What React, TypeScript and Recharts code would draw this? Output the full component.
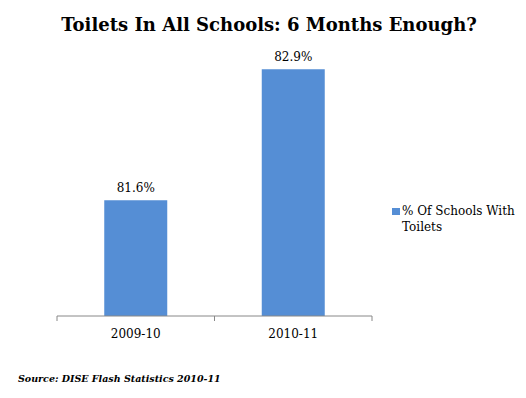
import { BarChart, Bar, XAxis, YAxis, LabelList, Legend } from 'recharts';

const categories = ['2009-10', '2010-11'];
const toiletShare = [81.6, 82.9];
const seriesName = '% Of Schools With Toilets';

const data = categories.map((year, i) => ({ year, value: toiletShare[i] }));

const FONT = '"DejaVu Serif", Georgia, serif';
const BAR = '#558ed5';

function YearTick(props: any) {
  const { x, y, payload, index } = props;
  const half = payload && payload.offset ? payload.offset : 78.75;
  return (
    <g>
      <line x1={x - half} y1={y - 8} x2={x - half} y2={y - 3} stroke="#888" />
      {index === categories.length - 1 && (
        <line x1={x + half} y1={y - 8} x2={x + half} y2={y - 3} stroke="#888" />
      )}
      <text x={x} y={y + 14} textAnchor="middle" fontFamily={FONT} fontSize={12} fill="#000">{payload.value}</text>
    </g>
  );
}

function LegendBox() {
  return (
    <div style={{ display: 'flex', fontFamily: FONT, fontSize: 12, color: '#000', lineHeight: '16px' }}>
      <div style={{ width: 8, height: 7, background: BAR, marginTop: 5, marginRight: 2, flexShrink: 0 }} />
      <div style={{ width: 124 }}>{seriesName}</div>
    </div>
  );
}

export default function App() {
  return (
    <div style={{ position: 'absolute', left: 0, top: 0, width: 526, height: 398, background: '#fff' }}>
      <div style={{ position: 'absolute', left: 0, top: 14, width: 538, textAlign: 'center', fontFamily: FONT, fontWeight: 'bold', fontSize: 18, color: '#000' }}>
        Toilets In All Schools: 6 Months Enough?
      </div>
      <BarChart width={526} height={398} data={data} margin={{ top: 39, right: 154, left: 57, bottom: 52 }} barCategoryGap="30%">
        <XAxis dataKey="year" axisLine={{ stroke: '#888' }} tickLine={false} tick={<YearTick />} height={30} />
        <YAxis hide domain={[80.45, 83.2]} allowDataOverflow />
        <Legend
          layout="horizontal"
          verticalAlign="middle"
          align="center"
          content={() => <LegendBox />}
          wrapperStyle={{ position: 'absolute', left: 392, top: 203, width: 134 }}
        />
        <Bar dataKey="value" name={seriesName} fill={BAR} isAnimationActive={false}>
          <LabelList dataKey="value" position="top" offset={8} formatter={(v: any) => `${v}%`} style={{ fontFamily: FONT, fontSize: 12, fill: '#000' }} />
        </Bar>
      </BarChart>
      <div style={{ position: 'absolute', left: 18, top: 373, fontFamily: FONT, fontWeight: 'bold', fontStyle: 'italic', fontSize: 9.5, color: '#000', whiteSpace: 'nowrap' }}>
        Source: DISE Flash Statistics 2010-11
      </div>
    </div>
  );
}
